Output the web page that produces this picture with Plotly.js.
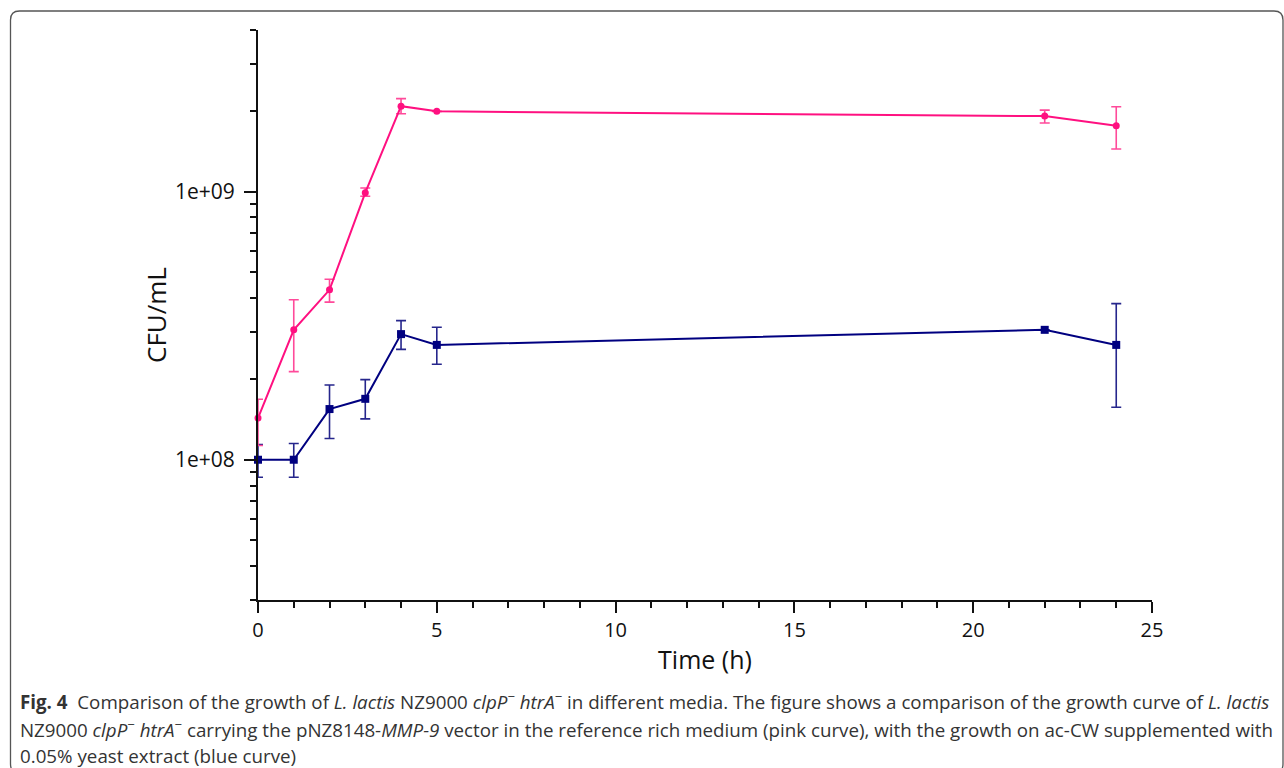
<!DOCTYPE html>
<html>
<head>
<meta charset="utf-8">
<script src="https://cdn.plot.ly/plotly-3.0.1.min.js"></script>
<style>html,body{margin:0;padding:0;background:#fff;}#chart{width:1284px;height:768px;}</style>
</head>
<body>
<div id="chart"></div>
<script>
// ---- data ----
const timeH = [0, 1, 2, 3, 4, 5, 22, 24];

const richMedium = [1.43e8, 3.05e8, 4.3e8, 0.99e9, 2.08e9, 1.99e9, 1.91e9, 1.76e9];
const richUpper  = [1.68e8, 3.95e8, 4.71e8, 1.03e9, 2.22e9, 1.99e9, 2.01e9, 2.07e9];
const richLower  = [1.13e8, 2.13e8, 3.87e8, 0.96e9, 1.95e9, 1.99e9, 1.80e9, 1.44e9];

const acCW      = [1.0e8, 1.0e8, 1.545e8, 1.687e8, 2.94e8, 2.68e8, 3.05e8, 2.68e8];
const acCWUpper = [1.14e8, 1.15e8, 1.9e8, 1.99e8, 3.3e8, 3.12e8, 3.05e8, 3.82e8];
const acCWLower = [0.86e8, 0.86e8, 1.2e8, 1.42e8, 2.58e8, 2.27e8, 3.05e8, 1.57e8];

const yTickVals = [1e8, 1e9];
const yTickText = ['1e+08', '1e+09'];
const xTickVals = [0, 5, 10, 15, 20, 25];

const captionLines = [
  '<b>Fig. 4</b>  Comparison of the growth of <i>L. lactis</i> NZ9000 <i>clpP</i><sup>−</sup> <i>htrA</i><sup>−</sup> in different media. The figure shows a comparison of the growth curve of <i>L. lactis</i>',
  'NZ9000 <i>clpP</i><sup>−</sup> <i>htrA</i><sup>−</sup> carrying the pNZ8148-<i>MMP-9</i> vector in the reference rich medium (pink curve), with the growth on ac-CW supplemented with',
  '0.05% yeast extract (blue curve)'
];

// ---- helpers ----
const W = 1284, H = 768;
const M = {l: 258, r: 132, t: 30, b: 168};
const pw = W - M.l - M.r, ph = H - M.t - M.b;
const px = x => (x - M.l) / pw;
const py = y => (H - M.b - y) / ph;

const minorVals = [];
[1e7, 1e8, 1e9].forEach(d => { for (let k = 2; k <= 9; k++) minorVals.push(k * d); });

const diff = (a, b) => a.map((v, i) => Math.max(0, v - b[i]));

const PINK = '#ff1080';
const NAVY = '#000080';

const traces = [
  {
    x: timeH, y: acCW, type: 'scatter', mode: 'lines+markers', name: 'ac-CW + 0.05% yeast extract',
    line: {color: NAVY, width: 2},
    marker: {symbol: 'square', size: 8, color: NAVY},
    error_y: {type: 'data', symmetric: false, array: diff(acCWUpper, acCW), arrayminus: diff(acCW, acCWLower),
              color: '#26268c', thickness: 1.6, width: 5},
    cliponaxis: false
  },
  {
    x: timeH, y: richMedium, type: 'scatter', mode: 'lines+markers', name: 'rich medium',
    line: {color: PINK, width: 2},
    marker: {symbol: 'circle', size: 7, color: PINK},
    error_y: {type: 'data', symmetric: false, array: diff(richUpper, richMedium), arrayminus: diff(richMedium, richLower),
              color: '#ff4a9a', thickness: 1.6, width: 5},
    cliponaxis: false
  }
];

const r = 9;
const L = 10.5, T = 11, R = 1283, B = 773;
const borderPath =
  `M ${px(L)} ${py(T + r)} Q ${px(L)} ${py(T)} ${px(L + r)} ${py(T)} ` +
  `L ${px(R - r)} ${py(T)} Q ${px(R)} ${py(T)} ${px(R)} ${py(T + r)} ` +
  `L ${px(R)} ${py(B - r)} Q ${px(R)} ${py(B)} ${px(R - r)} ${py(B)} ` +
  `L ${px(L + r)} ${py(B)} Q ${px(L)} ${py(B)} ${px(L)} ${py(B - r)} Z`;

const captionY = [701, 728, 755];
const annotations = captionLines.map((t, i) => ({
  text: t, xref: 'paper', yref: 'paper', x: px(18), y: py(captionY[i]),
  xanchor: 'left', yanchor: 'middle', showarrow: false, align: 'left',
  font: {family: 'Open Sans, sans-serif', size: 18.75, color: '#333333'}
}));

const layout = {
  width: W, height: H,
  margin: M,
  paper_bgcolor: '#ffffff', plot_bgcolor: '#ffffff',
  showlegend: false,
  font: {family: 'Open Sans, sans-serif', color: '#111111'},
  xaxis: {
    range: [0, 25], tickmode: 'array', tickvals: xTickVals,
    ticks: 'outside', ticklen: 11, tickwidth: 2, tickcolor: '#111',
    showline: true, linecolor: '#111', linewidth: 2,
    showgrid: false, zeroline: false,
    tickfont: {size: 20, color: '#111'},
    minor: {dtick: 1, ticks: 'outside', ticklen: 6, tickwidth: 2, tickcolor: '#111', showgrid: false},
    title: {text: 'Time (h)', font: {size: 25, color: '#111'}, standoff: 9}
  },
  yaxis: {
    type: 'log', range: [Math.log10(3e7), Math.log10(4e9)],
    tickmode: 'array', tickvals: yTickVals, ticktext: yTickText,
    ticks: 'outside', ticklen: 12, tickwidth: 2, tickcolor: '#111',
    ticklabelstandoff: 5,
    showline: true, linecolor: '#111', linewidth: 2,
    showgrid: false, zeroline: false,
    tickfont: {size: 21, color: '#111'},
    minor: {tickmode: 'array', tickvals: minorVals, ticks: 'outside', ticklen: 6, tickwidth: 2, tickcolor: '#111', showgrid: false},
    title: {text: 'CFU/mL', font: {size: 26, color: '#111'}, standoff: 1}
  },
  shapes: [{type: 'path', xref: 'paper', yref: 'paper', path: borderPath, line: {color: '#555', width: 1.3}, layer: 'below'}],
  annotations: annotations
};

Plotly.newPlot('chart', traces, layout, {displayModeBar: false, staticPlot: true});
</script>
</body>
</html>
